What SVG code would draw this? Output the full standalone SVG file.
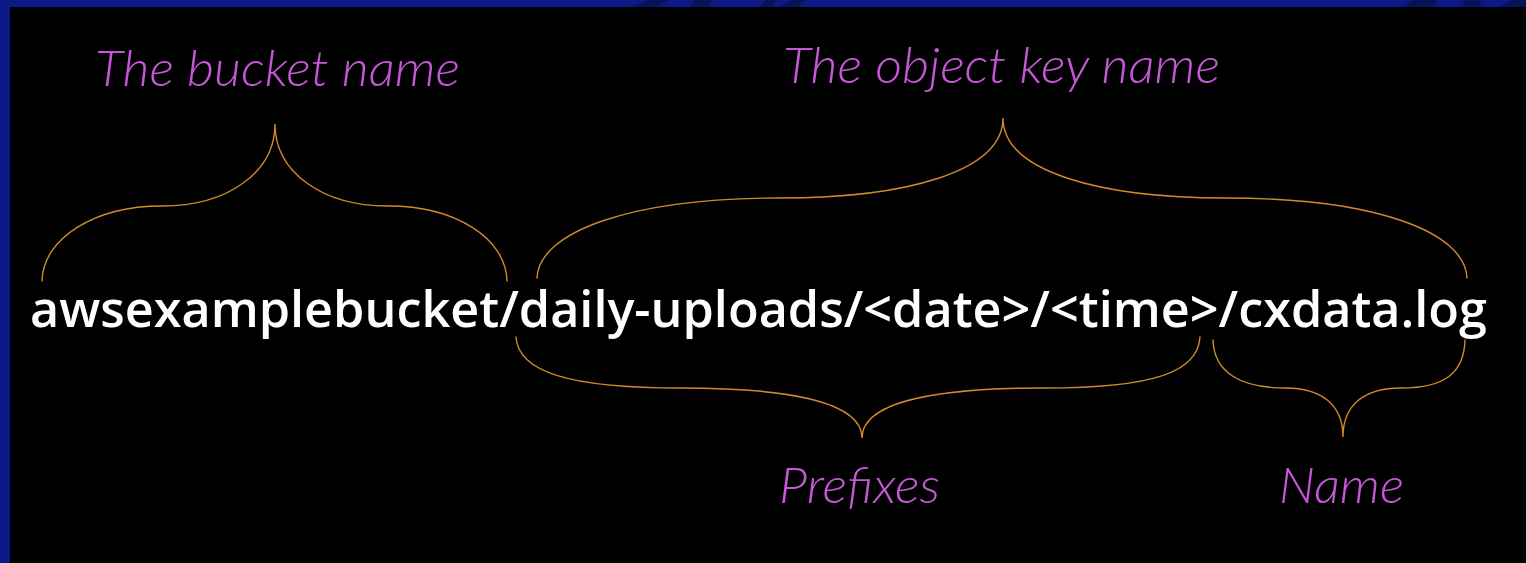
<svg xmlns="http://www.w3.org/2000/svg" width="1526" height="563" viewBox="0 0 1526 563">
  <style>
    .label { font-family: Lato, "Open Sans", "Liberation Sans", sans-serif; font-style: italic; font-weight: 300; font-size: 49px; fill: #c658d8; }
    .path-text { font-family: "Open Sans", "Liberation Sans", sans-serif; font-weight: 600; font-size: 51px; fill: #ffffff; }
    .brace { fill: none; stroke: #d08a2a; stroke-width: 1.4; stroke-linecap: round; }
    .stripe { fill: #081258; }
  </style>

  <!-- frame: blue backdrop with a black panel -->
  <rect x="0" y="0" width="1526" height="563" fill="#0b1a86"/>
  <polygon class="stripe" points="632,7 648,0 668,0 655,7"/>
  <polygon class="stripe" points="690,7 694,0 712,0 708,7"/>
  <polygon class="stripe" points="760,7 766,0 776,0 772,7"/>
  <polygon class="stripe" points="780,7 792,0 806,0 798,7"/>
  <polygon class="stripe" points="1405,7 1412,0 1438,0 1432,7"/>
  <polygon class="stripe" points="1462,7 1466,0 1478,0 1482,7"/>
  <polygon class="stripe" points="1500,7 1512,0 1526,0 1526,7"/>
  <rect x="10" y="7" width="1516" height="556" fill="#000000"/>

  <!-- labels -->
  <g id="label-bucket">
    <text class="label" x="95" y="86" textLength="365" lengthAdjust="spacingAndGlyphs">The bucket name</text>
  </g>
  <g id="label-key">
    <text class="label" x="783" y="83" textLength="437" lengthAdjust="spacingAndGlyphs">The object key name</text>
  </g>
  <g id="label-prefixes">
    <text class="label" x="779" y="503" textLength="161" lengthAdjust="spacingAndGlyphs">Prefixes</text>
  </g>
  <g id="label-name">
    <text class="label" x="1279" y="503" textLength="125" lengthAdjust="spacingAndGlyphs">Name</text>
  </g>

  <!-- the full object path -->
  <g id="object-path">
    <text class="path-text" x="30" y="327" textLength="1457" lengthAdjust="spacingAndGlyphs">awsexamplebucket/daily-uploads/&lt;date&gt;/&lt;time&gt;/cxdata.log</text>
  </g>

  <!-- curly braces grouping parts of the path -->
  <g id="braces">
    <path class="brace" d="M42,281 C43,238 95,206 162,206 C228,206 275,172 275,124 C275,172 322,206 388,206 C455,206 506,238 507,281"/>
    <path class="brace" d="M537,278 C539,232 630,198 780,198 C905,198 1003,172 1003,118 C1003,172 1101,198 1226,198 C1376,198 1465,232 1467,278"/>
    <path class="brace" d="M516,337 C518,372 570,388 680,388 C800,388 862,405 862,438 C862,405 924,388 1044,388 C1154,388 1198,372 1200,337"/>
    <path class="brace" d="M1213,340 C1214,372 1240,388 1285,388 C1322,388 1343,405 1343,437 C1343,405 1364,388 1401,388 C1446,388 1464,372 1465,340"/>
  </g>
</svg>
